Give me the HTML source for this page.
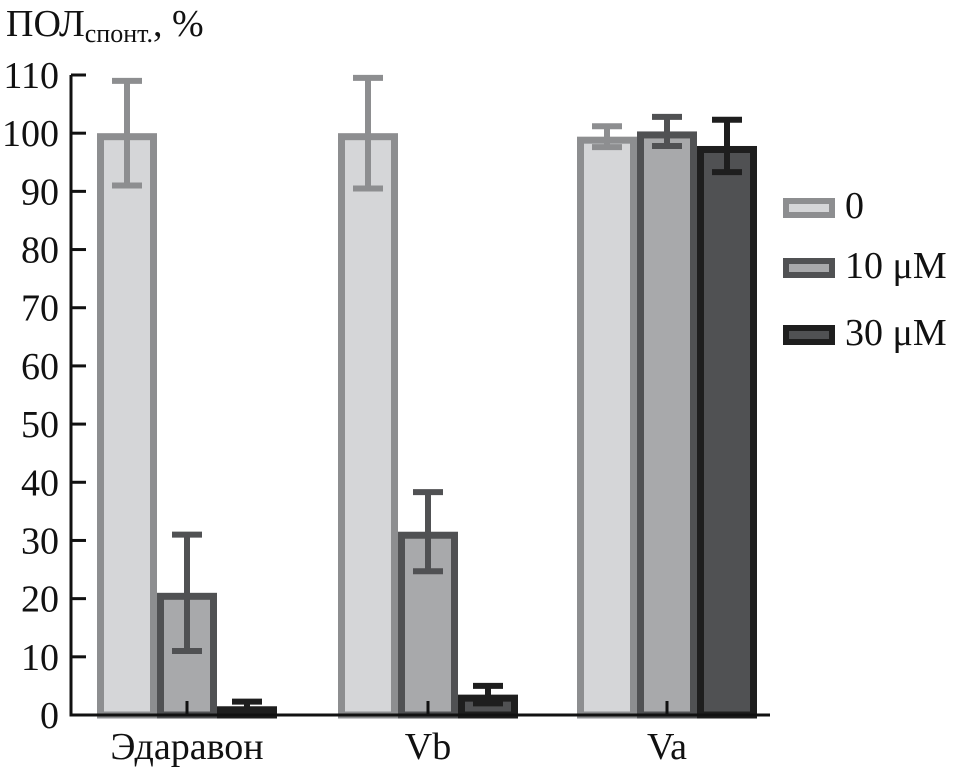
<!DOCTYPE html>
<html><head><meta charset="utf-8"><style>
html,body{margin:0;padding:0;background:#fff;}
svg text{font-family:"Liberation Serif","DejaVu Serif",serif;fill:#111;}
</style></head><body>
<svg id="chart" width="959" height="768" viewBox="0 0 959 768" xmlns="http://www.w3.org/2000/svg"></svg>
<script>
const categories = ["Эдаравон", "Vb", "Va"];
const seriesNames = ["0", "10 μM", "30 μM"];
const values0 = [100, 100, 99.4];
const values10 = [21, 31.5, 100.3];
const values30 = [1.5, 3.5, 97.8];
const err0 = [9, 9.5, 1.8];
const err10 = [10, 6.8, 2.5];
const err30 = [0.8, 1.5, 4.5];
const yTicks = [0,10,20,30,40,50,60,70,80,90,100,110];

const NS="http://www.w3.org/2000/svg";
const svg=document.getElementById('chart');
const y0=715, pxPer=(715-75)/110;
function yScale(v){return y0-v*pxPer;}
const groupCenter=[187,428,667];
const barW=60;
function xScale(ci,si){return groupCenter[ci]-90+si*barW;}
const fills=["#d5d6d8","#a8a9ab","#505153"];
const strokes=["#8d8e90","#505153","#1e1e1e"];
const allVals=[values0,values10,values30];
const allErr=[err0,err10,err30];
function el(t,a){const e=document.createElementNS(NS,t);for(const k in a)e.setAttribute(k,a[k]);svg.appendChild(e);return e;}

const tt=el('text',{x:6,y:36,'font-size':38});


tt.innerHTML='ПОЛ<tspan font-size="26" dy="6">спонт.</tspan><tspan dy="-6">, %</tspan>';

for(let s=0;s<3;s++){for(let c=0;c<3;c++){
  const v=allVals[s][c], e=allErr[s][c];
  const x=xScale(c,s), yt=yScale(v);
  const r=el('rect',{x:x+3.5,y:yt+3.5,width:barW-7,height:Math.max(0,y0-yt-3.5),fill:fills[s],stroke:strokes[s],'stroke-width':7});
  
  
  const cx=x+barW/2, yh=yScale(v+e), yl=yScale(v-e);
  const g=el('path',{d:`M${cx} ${yh}V${yl}M${cx-15} ${yh}H${cx+15}M${cx-15} ${yl}H${cx+15}`,stroke:strokes[s],'stroke-width':6,fill:'none'});
  
  
}}

const ax=el('path',{d:`M71 75V${y0}H770`,stroke:'#111','stroke-width':3,fill:'none'});


yTicks.forEach(t=>{
  const y=yScale(t);
  el('line',{x1:71,x2:86,y1:y,y2:y,stroke:'#111','stroke-width':3});
  const tx=el('text',{x:59,y:y+13,'font-size':38,'text-anchor':'end'});
  
  
  tx.textContent=t;
});
categories.forEach((c,i)=>{
  el('line',{x1:groupCenter[i],x2:groupCenter[i],y1:y0,y2:y0-14,stroke:'#111','stroke-width':3});
  const tx=el('text',{x:groupCenter[i],y:759,'font-size':38,'text-anchor':'middle'});
  
  
  tx.textContent=c;
});

const ly=[198,258,325];
seriesNames.forEach((n,i)=>{
  const r=el('rect',{x:786,y:ly[i]+3,width:46,height:14,fill:fills[i],stroke:strokes[i],'stroke-width':6});
  
  
  const tx=el('text',{x:845,y:ly[i]+20,'font-size':38});
  
  
  tx.textContent=n;
});
</script>
</body></html>
